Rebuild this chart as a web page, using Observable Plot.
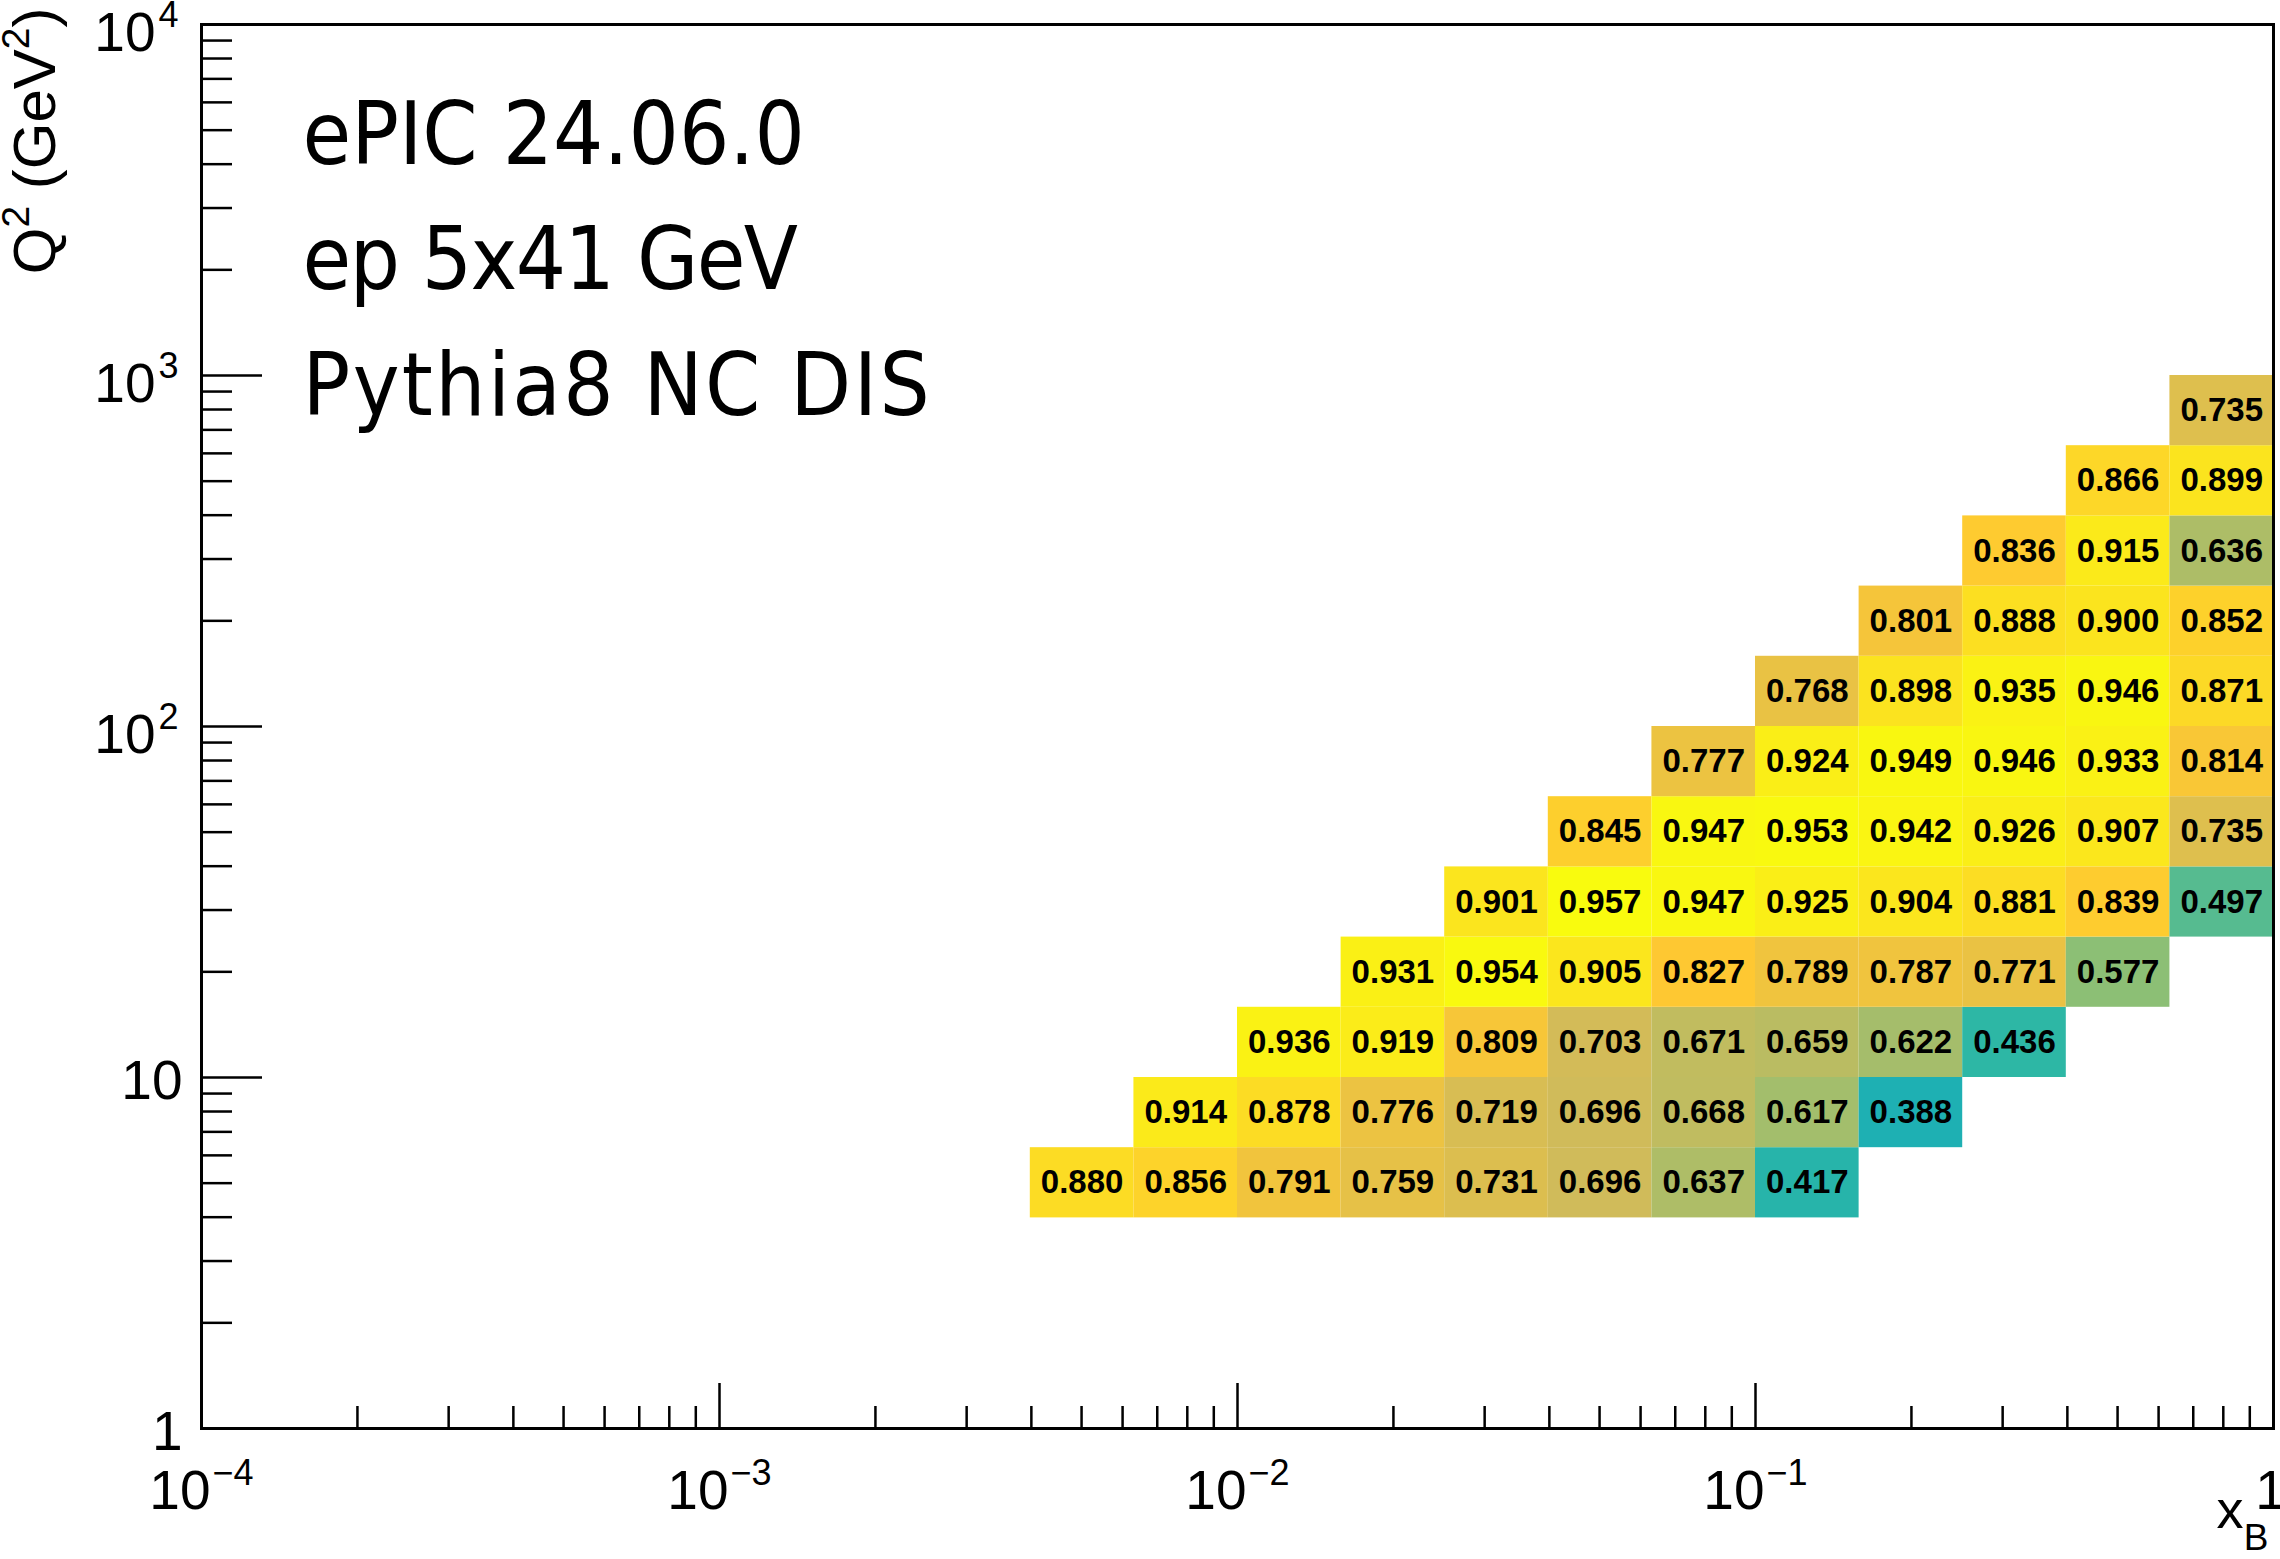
<!DOCTYPE html>
<html>
<head>
<meta charset="utf-8">
<script src="https://cdn.jsdelivr.net/npm/d3@7"></script>
<script src="https://cdn.jsdelivr.net/npm/@observablehq/plot@0.6"></script>
<style>
  html, body { margin: 0; padding: 0; background: #ffffff; overflow: hidden; }
  #chart svg { display: block; }
</style>
</head>
<body>
<div id="chart"></div>
<script>
// ---- Data ----
// bin edges (5 bins per decade)
const xEdges = [0.003981, 0.006310, 0.01, 0.01585, 0.02512, 0.03981, 0.06310, 0.1, 0.1585, 0.2512, 0.3981, 0.6310, 1.0];
const yEdges = [3.981, 6.310, 10, 15.85, 25.12, 39.81, 63.10, 100, 158.5, 251.2, 398.1, 631.0, 1000];
// index of first filled x bin in each Q2 row
const rowFirstXBin = [0, 1, 2, 3, 4, 5, 6, 7, 8, 9, 10, 11];
// values per Q2 row (bottom to top), left to right
const row0  = [0.880, 0.856, 0.791, 0.759, 0.731, 0.696, 0.637, 0.417];
const row1  = [0.914, 0.878, 0.776, 0.719, 0.696, 0.668, 0.617, 0.388];
const row2  = [0.936, 0.919, 0.809, 0.703, 0.671, 0.659, 0.622, 0.436];
const row3  = [0.931, 0.954, 0.905, 0.827, 0.789, 0.787, 0.771, 0.577];
const row4  = [0.901, 0.957, 0.947, 0.925, 0.904, 0.881, 0.839, 0.497];
const row5  = [0.845, 0.947, 0.953, 0.942, 0.926, 0.907, 0.735];
const row6  = [0.777, 0.924, 0.949, 0.946, 0.933, 0.814];
const row7  = [0.768, 0.898, 0.935, 0.946, 0.871];
const row8  = [0.801, 0.888, 0.900, 0.852];
const row9  = [0.836, 0.915, 0.636];
const row10 = [0.866, 0.899];
const row11 = [0.735];
const rows = [row0, row1, row2, row3, row4, row5, row6, row7, row8, row9, row10, row11];

// axis tick labels
const xMajorTicks = [1e-4, 1e-3, 1e-2, 1e-1, 1];
const xTickBase = ["10", "10", "10", "10", "1"];
const xTickSup  = ["\u22124", "\u22123", "\u22122", "\u22121", ""];
const yMajorTicks = [1, 10, 100, 1000, 10000];
const yTickBase = ["1", "10", "10", "10", "10"];
const yTickSup  = ["", "", "2", "3", "4"];

const infoLines = ["ePIC 24.06.0", "ep 5x41 GeV", "Pythia8 NC DIS"];
const infoLetterSpacing = [0, -1.6, 2.4];

// ROOT kBird palette
const birdPalette = ["#351b87", "#0f5cdd", "#1481d6", "#06a4ca", "#2eb7a4", "#87bf77", "#d1bb59", "#fec832", "#f9fb0e"];

// ---- Derived tables ----
const cells = [];
rows.forEach((vals, j) => vals.forEach((v, k) => {
  const i = rowFirstXBin[j] + k;
  cells.push({x1: xEdges[i], x2: xEdges[i + 1], y1: yEdges[j], y2: yEdges[j + 1], v});
}));

const xMinorTicks = [];
for (let e = -4; e < 0; e++) for (let m = 2; m <= 9; m++) xMinorTicks.push(m * Math.pow(10, e));
const yMinorTicks = [];
for (let e = 0; e < 4; e++) for (let m = 2; m <= 9; m++) yMinorTicks.push(m * Math.pow(10, e));

const xLabels = xMajorTicks.map((v, i) => ({v, base: xTickBase[i], sup: xTickSup[i]}));
const yLabels = yMajorTicks.map((v, i) => ({v, base: yTickBase[i], sup: yTickSup[i]}));

const FONT = "'Liberation Sans', Helvetica, Arial, sans-serif";
const INFO_FONT = "'DejaVu Sans Condensed', 'DejaVu Sans', sans-serif";
const fmt = d3.format(".3f");

const plot = Plot.plot({
  width: 2280,
  height: 1559,
  marginLeft: 201,
  marginRight: 7,
  marginTop: 24,
  marginBottom: 131,
  style: {background: "#ffffff", fontFamily: FONT},
  x: {type: "log", domain: [1e-4, 1], axis: null},
  y: {type: "log", domain: [1, 1e4], axis: null},
  color: {type: "linear", domain: [-0.08, 0.958], interpolate: d3.piecewise(d3.interpolateRgb, birdPalette), clamp: true},
  marks: [
    Plot.rect(cells, {x1: "x1", x2: "x2", y1: "y1", y2: "y2", fill: "v"}),
    Plot.text(cells, {
      x: d => Math.sqrt(d.x1 * d.x2),
      y: d => Math.sqrt(d.y1 * d.y2),
      text: d => fmt(d.v),
      fill: "black",
      fontWeight: "bold",
      fontSize: 33,
      fontFamily: FONT
    }),
    // ticks (inside, ROOT style)
    Plot.ruleX(xMajorTicks, {x: d => d, y1: 1, y2: 1, insetTop: -45, stroke: "black", strokeWidth: 2.5}),
    Plot.ruleX(xMinorTicks, {x: d => d, y1: 1, y2: 1, insetTop: -22, stroke: "black", strokeWidth: 2.5}),
    Plot.ruleY(yMajorTicks, {y: d => d, x1: 1e-4, x2: 1e-4, insetRight: -61, stroke: "black", strokeWidth: 2.5}),
    Plot.ruleY(yMinorTicks, {y: d => d, x1: 1e-4, x2: 1e-4, insetRight: -31, stroke: "black", strokeWidth: 2.5}),
    Plot.frame({stroke: "black", strokeWidth: 3}),
    // x tick labels
    Plot.text(xLabels.filter(d => d.sup), {x: "v", text: "base", frameAnchor: "bottom", textAnchor: "end", lineAnchor: "bottom", dx: 9, dy: 80, fontSize: 55, fontFamily: FONT, fill: "black"}),
    Plot.text(xLabels.filter(d => d.sup), {x: "v", text: "sup", frameAnchor: "bottom", textAnchor: "start", lineAnchor: "bottom", dx: 11, dy: 56, fontSize: 36, fontFamily: FONT, fill: "black"}),
    Plot.text(xLabels.filter(d => !d.sup), {x: "v", text: "base", frameAnchor: "bottom", textAnchor: "middle", lineAnchor: "bottom", dx: -3, dy: 80, fontSize: 55, fontFamily: FONT, fill: "black"}),
    // y tick labels
    Plot.text(yLabels.filter(d => d.sup), {y: "v", text: "base", frameAnchor: "left", textAnchor: "end", lineAnchor: "bottom", dx: -46, dy: 26, fontSize: 55, fontFamily: FONT, fill: "black"}),
    Plot.text(yLabels.filter(d => d.sup), {y: "v", text: "sup", frameAnchor: "left", textAnchor: "end", lineAnchor: "bottom", dx: -23, dy: 2, fontSize: 36, fontFamily: FONT, fill: "black"}),
    Plot.text(yLabels.filter(d => !d.sup), {y: "v", text: "base", frameAnchor: "left", textAnchor: "end", lineAnchor: "bottom", dx: -19, dy: 21, fontSize: 55, fontFamily: FONT, fill: "black"}),
    // axis titles
    Plot.text(["x"], {text: d => d, frameAnchor: "bottom-right", textAnchor: "end", lineAnchor: "bottom", dx: -30, dy: 99, fontSize: 54, fontFamily: FONT, fill: "black"}),
    Plot.text(["B"], {text: d => d, frameAnchor: "bottom-right", textAnchor: "end", lineAnchor: "bottom", dx: -5, dy: 121, fontSize: 37, fontFamily: FONT, fill: "black"}),
    Plot.text(["__YTITLE__"], {text: d => d, frameAnchor: "top-left", rotate: -90, textAnchor: "end", lineAnchor: "bottom", dx: -147, dy: -17, fontSize: 60, fontFamily: FONT, fill: "black"}),
    // info text
    ...infoLines.map((t, i) => Plot.text([t], {text: d => d, frameAnchor: "top-left", textAnchor: "start", lineAnchor: "bottom", dx: 101, dy: 139 + i * 125.5, fontSize: 88, fontFamily: INFO_FONT, fill: "black"}))
  ]
});

// y-axis title with real superscripts
plot.querySelectorAll("text").forEach(t => {
  if (t.textContent === "__YTITLE__") {
    t.textContent = "";
    const parts = [["Q", 0, null], ["2", -26, 39], [" (GeV", 26, null], ["2", -26, 39], [")", 26, null]];
    parts.forEach(([s, dy, fs]) => {
      const ts = document.createElementNS("http://www.w3.org/2000/svg", "tspan");
      ts.textContent = s;
      if (dy) ts.setAttribute("dy", dy);
      if (fs) ts.setAttribute("font-size", fs);
      t.appendChild(ts);
    });
  }
});
// info font: condensed with per-line spacing
plot.querySelectorAll("text").forEach(t => {
  const k = infoLines.indexOf(t.textContent);
  if (k >= 0) {
    t.setAttribute("font-stretch", "condensed");
    t.setAttribute("letter-spacing", infoLetterSpacing[k]);
  }
});

document.getElementById("chart").appendChild(plot);
</script>
</body>
</html>
